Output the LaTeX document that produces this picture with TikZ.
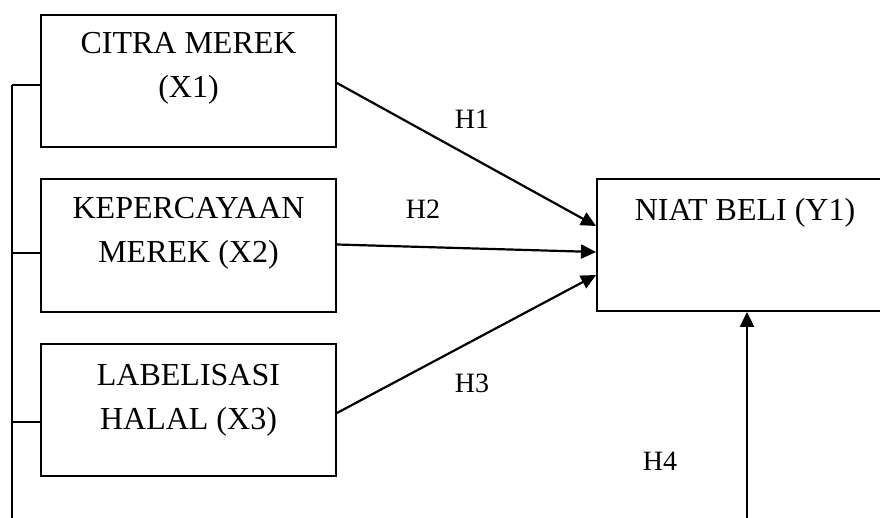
\documentclass[tikz,border=0pt]{standalone}
\usepackage{fontspec}
\setmainfont{Liberation Serif}
\usetikzlibrary{arrows.meta}
\begin{document}
\begin{tikzpicture}[x=1pt,y=-1pt,
  varbox/.style={draw=black,line width=1.9pt,minimum width=295pt,minimum height=132pt,inner sep=0pt},
  boxtext/.style={font=\fontsize{32}{44}\selectfont,align=center,inner sep=0pt},
  hlabel/.style={font=\fontsize{28}{32}\selectfont,inner sep=0pt},
  link/.style={line width=1.9pt},
  arr/.style={line width=2.2pt,-{Triangle[length=15pt,width=14pt]}}]
\useasboundingbox (0,0) rectangle (880,518);
\clip (0,0) rectangle (880,518);
% boxes
\node[varbox] (x1) at (188.5,81) {};
\node[varbox,minimum height=133pt] (x2) at (188.5,245.5) {};
\node[varbox] (x3) at (188.5,410) {};
\node[varbox,minimum width=296pt] (y1) at (745,245) {};
% box texts
\node[boxtext] (t1) at (188.5,68) {CITRA MEREK\\(X1)};
\node[boxtext] (t2) at (188.5,233) {KEPERCAYAAN\\MEREK (X2)};
\node[boxtext] (t3) at (188.5,400) {LABELISASI\\HALAL (X3)};
\node[boxtext] (ty) at (745,213) {NIAT BELI (Y1)};
% hypothesis labels
\node[hlabel] (h1) at (472,119) {H1};
\node[hlabel] (h2) at (423,209) {H2};
\node[hlabel] (h3) at (472,383) {H3};
\node[hlabel] (h4) at (660,461) {H4};
% left bracket
\coordinate (c1) at (12,85);
\coordinate (c2) at (12,253);
\coordinate (c3) at (12,422);
\coordinate (cb) at (12,520);
\draw[link] (c1) -- (cb);
\draw[link] (c1) -- (c1 -| x1.west);
\draw[link] (c2) -- (c2 -| x2.west);
\draw[link] (c3) -- (c3 -| x3.west);
% arrows
\draw[arr] ([yshift=-2pt]x1.east) -- ([yshift=19pt]y1.west);
\draw[arr] ([yshift=1pt]x2.east) -- ([yshift=-7pt]y1.west);
\draw[arr] ([yshift=-3pt]x3.east) -- ([yshift=-30pt]y1.west);
\coordinate (h4s) at (747,520);
\draw[arr] (h4s) -- (h4s |- y1.south);
\end{tikzpicture}
\end{document}
